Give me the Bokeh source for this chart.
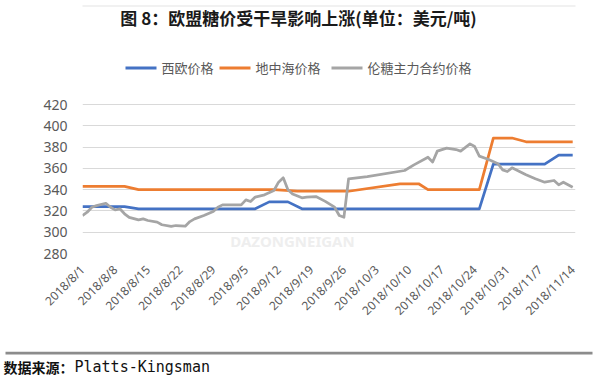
import math
import pandas as pd
from bokeh.plotting import figure
from bokeh.layouts import column
from bokeh.models import (Range1d, FixedTicker, Label, BoxAnnotation,
                          ColumnDataSource)
from bokeh.embed import file_html
from bokeh.resources import INLINE

# ---------------- data ----------------
title_text = "图 8：欧盟糖价受干旱影响上涨(单位：美元/吨)"
series_names = ["西欧价格", "地中海价格", "伦糖主力合约价格"]
series_colors = ["#4472C4", "#ED7D31", "#A5A5A5"]
source_label = "数据来源："
source_name = "Platts-Kingsman"
watermark = "DAZONGNEIGAN"

tick_labels = ["2018/8/1", "2018/8/8", "2018/8/15", "2018/8/22", "2018/8/29",
               "2018/9/5", "2018/9/12", "2018/9/19", "2018/9/26", "2018/10/3",
               "2018/10/10", "2018/10/17", "2018/10/24", "2018/10/31",
               "2018/11/7", "2018/11/14"]
y_ticks = [280, 300, 320, 340, 360, 380, 400, 420]

west_dates = ["2018/8/1", "2018/8/10", "2018/8/13", "2018/9/7", "2018/9/10",
              "2018/9/14", "2018/9/17", "2018/10/25", "2018/10/28",
              "2018/11/8", "2018/11/11", "2018/11/14"]
west_values = [324, 324, 322, 322, 328.5, 328.5, 322, 322, 364, 364, 372.5, 372.5]

med_dates = ["2018/8/1", "2018/8/10", "2018/8/13", "2018/9/11", "2018/9/16",
             "2018/9/27", "2018/10/8", "2018/10/12", "2018/10/14",
             "2018/10/25", "2018/10/28", "2018/11/1", "2018/11/4", "2018/11/14"]
med_values = [343, 343, 340, 340, 338.5, 338.5, 345.5, 345.5, 340, 340,
              388.5, 388.5, 385, 385]

ldn_dates = ["2018/8/1", "2018/8/2", "2018/8/3", "2018/8/4", "2018/8/6",
             "2018/8/7", "2018/8/8", "2018/8/9", "2018/8/10", "2018/8/11",
             "2018/8/13", "2018/8/14", "2018/8/15", "2018/8/17", "2018/8/18",
             "2018/8/20", "2018/8/21", "2018/8/23", "2018/8/24", "2018/8/25",
             "2018/8/27", "2018/8/29", "2018/8/30", "2018/8/31", "2018/9/4",
             "2018/9/5", "2018/9/6", "2018/9/7", "2018/9/9", "2018/9/11",
             "2018/9/12", "2018/9/13", "2018/9/14", "2018/9/15", "2018/9/17",
             "2018/9/18", "2018/9/20", "2018/9/22", "2018/9/24", "2018/9/25",
             "2018/9/26", "2018/9/27", "2018/10/1", "2018/10/9", "2018/10/11",
             "2018/10/14", "2018/10/15", "2018/10/16", "2018/10/18",
             "2018/10/20", "2018/10/21", "2018/10/23", "2018/10/24",
             "2018/10/25", "2018/10/27", "2018/10/29", "2018/10/30",
             "2018/10/31", "2018/11/1", "2018/11/4", "2018/11/6", "2018/11/8",
             "2018/11/10", "2018/11/11", "2018/11/12", "2018/11/14"]
ldn_values = [315.7, 318.8, 323.5, 325, 327.2, 323.5, 321, 322, 317.3, 314,
              311.6, 312.5, 311, 309.5, 307, 305.4, 306.3, 305.7, 310, 312.5,
              315.7, 319.4, 323.5, 325.7, 325.7, 330.4, 328.8, 333, 335.1,
              339.2, 347, 351.1, 340, 336, 332.3, 333, 333.5, 329, 323.5,
              315.7, 314.1, 350.2, 352.3, 358, 363.3, 370.5, 365.9, 376.2, 379,
              377.7, 376.2, 383, 380.5, 371.5, 368.3, 364.3, 358.6, 357, 360.5,
              353.9, 350.2, 347, 348.6, 344.5, 347, 342.3]

# ---------------- helpers ----------------
BASE = pd.Timestamp("2018-08-01")


def to_days(dates):
    return [(pd.to_datetime(d, format="%Y/%m/%d") - BASE).days for d in dates]


tick_days = to_days(tick_labels)

# Main chart: the frame runs from the top of the canvas down to the 280 line
# (y=253); the 420 gridline sits 104 px below the top, as in the reference.
Y_MIN, Y_MAX = y_ticks[0], y_ticks[-1]
frame_h, top_gap = 253, 104
y_end = Y_MAX + top_gap * (Y_MAX - Y_MIN) / (frame_h - top_gap)

p = figure(width=600, height=351, output_backend="svg", toolbar_location=None,
           x_range=Range1d(0, 105.6), y_range=Range1d(Y_MIN, y_end),
           min_border_left=82, min_border_right=25, min_border_top=0,
           min_border_bottom=98)
p.frame_align = False
p.outline_line_color = None
p.background_fill_color = "white"
p.border_fill_color = "white"
p.title.visible = False

# grid
p.xgrid.visible = False
p.ygrid.ticker = FixedTicker(ticks=y_ticks)
p.ygrid.grid_line_color = "#d9d9d9"
p.ygrid.grid_line_width = 1

# y axis
p.yaxis.ticker = FixedTicker(ticks=y_ticks)
p.yaxis.axis_line_color = None
p.yaxis.major_tick_line_color = None
p.yaxis.minor_tick_line_color = None
p.yaxis.major_label_text_font = "Noto Sans"
p.yaxis.major_label_text_font_size = "14px"
p.yaxis.major_label_text_color = "#595959"
p.yaxis.major_label_standoff = 9

# x axis
p.xaxis.ticker = FixedTicker(ticks=tick_days)
p.xaxis.major_label_overrides = {d: l for d, l in zip(tick_days, tick_labels)}
p.xaxis.major_label_orientation = math.pi / 4
p.xaxis.axis_line_color = None
p.xaxis.major_tick_line_color = None
p.xaxis.minor_tick_line_color = None
p.xaxis.major_label_text_font = "Noto Sans"
p.xaxis.major_label_text_font_size = "12px"
p.xaxis.major_label_text_color = "#595959"
p.xaxis.major_label_standoff = 8

# thin top border of the chart box
p.add_layout(BoxAnnotation(left=0, right=600, top=5, bottom=6,
                           left_units="canvas", right_units="canvas",
                           top_units="canvas", bottom_units="canvas",
                           fill_color="#e3e3e3", fill_alpha=1,
                           line_color=None))

# watermark
p.add_layout(Label(x=292, y=240, x_units="canvas", y_units="canvas",
                   text=watermark, text_align="center",
                   text_baseline="middle", text_font="Noto Sans",
                   text_font_style="bold", text_font_size="15px",
                   text_color="#eeeeee"))

# series
for dates, vals, color in [(west_dates, west_values, series_colors[0]),
                           (med_dates, med_values, series_colors[1]),
                           (ldn_dates, ldn_values, series_colors[2])]:
    src = ColumnDataSource(dict(x=to_days(dates), y=vals))
    p.line("x", "y", source=src, line_color=color, line_width=2.75,
           line_join="round")

# legend (swatch boxes + labels, canvas units, inside the frame)
legend_swatch_x = [125, 219, 331]
for name, color, sx in zip(series_names, series_colors, legend_swatch_x):
    p.add_layout(BoxAnnotation(left=sx, right=sx + 31, top=66, bottom=69,
                               left_units="canvas", right_units="canvas",
                               top_units="canvas", bottom_units="canvas",
                               fill_color=color, fill_alpha=1,
                               line_color=None))
    p.add_layout(Label(x=sx + 36, y=67, x_units="canvas", y_units="canvas",
                       text=name, text_baseline="middle",
                       text_font="Noto Sans CJK SC", text_font_size="13px",
                       text_color="#595959"))

# title
p.add_layout(Label(x=298, y=17, x_units="canvas", y_units="canvas",
                   text=title_text, text_align="center",
                   text_baseline="middle", text_font="Noto Sans CJK SC",
                   text_font_style="bold", text_font_size="17px",
                   text_color="#1a1a1a"))

# ---------------- footer strip: box shadow line + source note ----------------
f = figure(width=600, height=25, output_backend="svg", toolbar_location=None,
           x_range=Range1d(0, 600), y_range=Range1d(0, 25),
           x_axis_location=None, y_axis_location=None,
           min_border=0, min_border_left=0, min_border_right=0,
           min_border_top=0, min_border_bottom=0)
f.frame_align = False
f.outline_line_color = None
f.grid.visible = False
f.background_fill_color = "white"
f.border_fill_color = "white"
f.title.visible = False

f.add_layout(BoxAnnotation(left=5, right=592, top=0, bottom=3,
                           left_units="canvas", right_units="canvas",
                           top_units="canvas", bottom_units="canvas",
                           fill_color="#8c8c8c", fill_alpha=1,
                           line_color=None))
f.add_layout(Label(x=3, y=15, x_units="canvas", y_units="canvas",
                   text=source_label, text_baseline="middle",
                   text_font="Noto Sans CJK SC", text_font_style="bold",
                   text_font_size="14px", text_color="#111111"))
f.add_layout(Label(x=74, y=15, x_units="canvas", y_units="canvas",
                   text=source_name, text_baseline="middle",
                   text_font="DejaVu Sans Mono", text_font_size="15px",
                   text_color="#111111"))

layout = column(p, f, spacing=0)
open("out.html", "w").write(file_html(layout, INLINE))
